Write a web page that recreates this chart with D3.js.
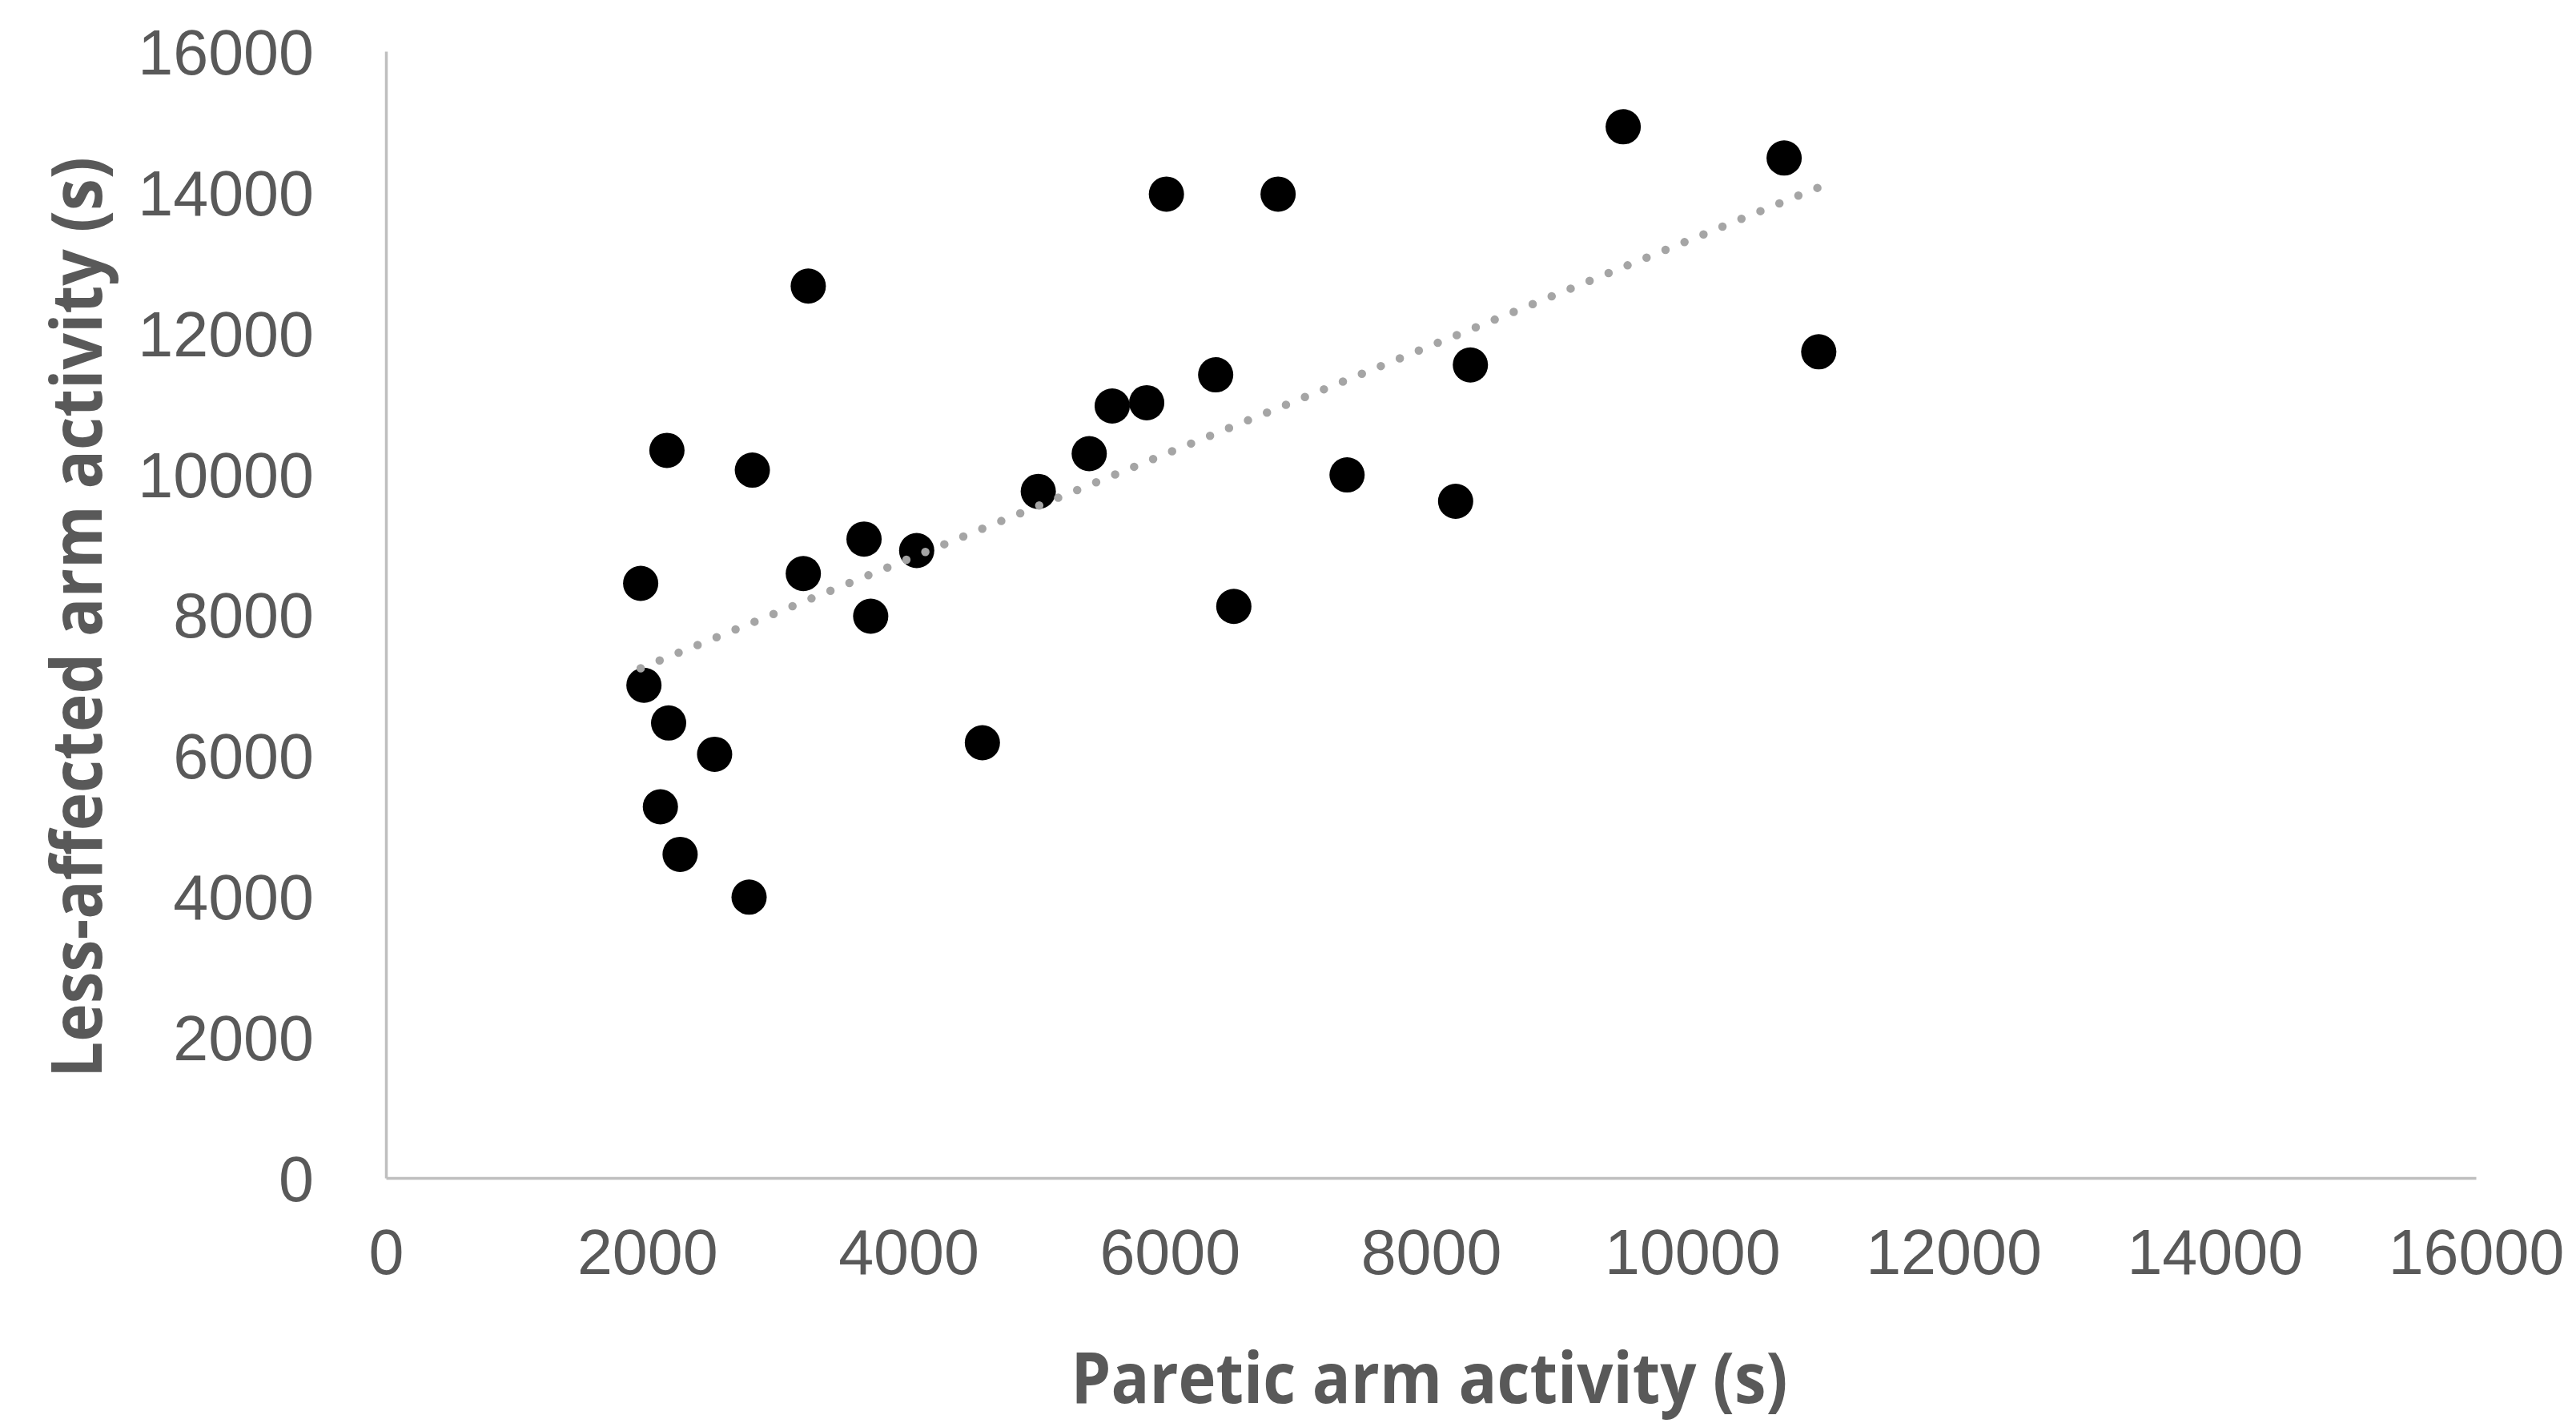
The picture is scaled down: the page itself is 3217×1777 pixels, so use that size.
<!DOCTYPE html>
<html>
<head>
<meta charset="utf-8">
<script src="https://cdn.jsdelivr.net/npm/d3@7"></script>
<style>
  html, body { margin: 0; padding: 0; background: #ffffff; }
  svg { display: block; }
</style>
</head>
<body>
<svg id="chart" width="3217" height="1777"></svg>
<script>
// ---- Data ----
const pareticArm = [1950, 1975, 2151, 2164, 2101, 2252, 2516, 2780, 2805, 3195, 3233, 3660, 3711, 4063, 4566, 4994, 5384, 5560, 5824, 5975, 6352, 6491, 6830, 7358, 8189, 8302, 9472, 10704, 10969];
const lessAffectedArm = [8443, 6997, 10332, 6461, 5271, 4595, 6017, 3988, 10052, 8583, 12665, 9073, 7977, 8910, 6181, 9749, 10286, 10962, 11009, 13971, 11405, 8117, 13971, 9983, 9609, 11545, 14927, 14484, 11732];
const xTicks = [0, 2000, 4000, 6000, 8000, 10000, 12000, 14000, 16000];
const yTicks = [0, 2000, 4000, 6000, 8000, 10000, 12000, 14000, 16000];
const xTitle = "Paretic arm activity (s)";
const yTitle = "Less-affected arm activity (s)";

const svg = d3.select("#chart");
const W = 3217, H = 1777;
const plot = { left: 482, right: 3092, top: 64, bottom: 1471 };

svg.append("rect").attr("width", W).attr("height", H).attr("fill", "#ffffff");

const x = d3.scaleLinear().domain([0, 16000]).range([plot.left, plot.right]);
const y = d3.scaleLinear().domain([0, 16000]).range([plot.bottom, plot.top]);

const textColor = "#595959";
const axisColor = "#bfbfbf";
const tickFont = "'Liberation Sans', Arial, sans-serif";
const titleFont = "'Open Sans', 'Liberation Sans', sans-serif";

// Y axis
const yAxis = svg.append("g")
  .attr("transform", `translate(${plot.left},0)`)
  .call(d3.axisLeft(y).tickValues(yTicks).tickSize(0).tickPadding(90).tickFormat(d3.format("d")));
yAxis.select(".domain").attr("stroke", axisColor).attr("stroke-width", 3.5);
yAxis.selectAll("text")
  .attr("fill", textColor)
  .attr("font-family", tickFont)
  .attr("font-size", 79)
  .attr("dy", "0.36em");

// X axis
const xAxis = svg.append("g")
  .attr("transform", `translate(0,${plot.bottom})`)
  .call(d3.axisBottom(x).tickValues(xTicks).tickSize(0).tickPadding(92).tickFormat(d3.format("d")));
xAxis.select(".domain").attr("stroke", axisColor).attr("stroke-width", 3.5);
xAxis.selectAll("text")
  .attr("fill", textColor)
  .attr("font-family", tickFont)
  .attr("font-size", 79)
  .attr("dy", "0.36em");

// Trendline (linear least squares over the data)
const pts = pareticArm.map((v, i) => [v, lessAffectedArm[i]]);
const mx = d3.mean(pareticArm), my = d3.mean(lessAffectedArm);
const sxy = d3.sum(pts, p => (p[0] - mx) * (p[1] - my));
const sxx = d3.sum(pts, p => (p[0] - mx) ** 2);
const slope = sxy / sxx, intercept = my - slope * mx;
const [xmin, xmax] = d3.extent(pareticArm);
const trend = [[xmin, intercept + slope * xmin], [xmax, intercept + slope * xmax]];

// Points
svg.append("g").selectAll("circle")
  .data(pts)
  .join("circle")
  .attr("cx", d => x(d[0]))
  .attr("cy", d => y(d[1]))
  .attr("r", 22)
  .attr("fill", "#000000");

svg.append("path")
  .datum(trend)
  .attr("d", d3.line().x(d => x(d[0])).y(d => y(d[1])))
  .attr("fill", "none")
  .attr("stroke", "#a5a5a5")
  .attr("stroke-width", 10.5)
  .attr("stroke-linecap", "round")
  .attr("stroke-dasharray", "0 25.6");

// Axis titles
svg.append("text")
  .attr("x", 1785)
  .attr("y", 1752)
  .attr("text-anchor", "middle")
  .attr("fill", textColor)
  .attr("font-family", titleFont)
  .attr("font-weight", 700)
  .attr("font-size", 87)
  .attr("textLength", 895)
  .attr("lengthAdjust", "spacingAndGlyphs")
  .text(xTitle);

svg.append("text")
  .attr("transform", `translate(127,771) rotate(-90)`)
  .attr("text-anchor", "middle")
  .attr("fill", textColor)
  .attr("font-family", titleFont)
  .attr("font-weight", 700)
  .attr("font-size", 87)
  .attr("textLength", 1150)
  .attr("lengthAdjust", "spacingAndGlyphs")
  .text(yTitle);
</script>
</body>
</html>
